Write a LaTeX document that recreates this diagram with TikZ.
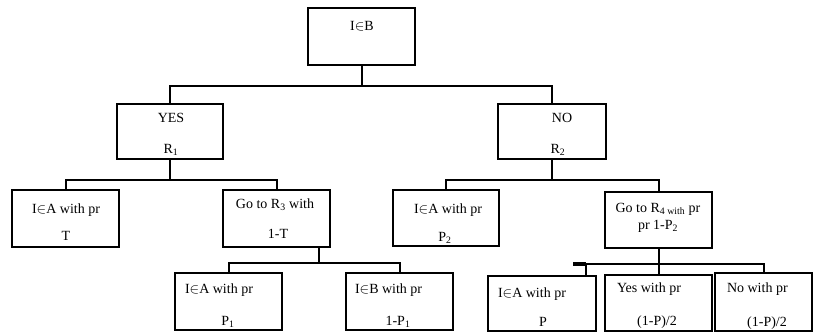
\documentclass[tikz,border=0pt]{standalone}
\usepackage{fontspec}
\setmainfont{Liberation Serif}
\begin{document}
\begin{tikzpicture}[x=1pt,y=-1pt,
  box/.style 2 args={draw=black, line width=2.4pt, inner sep=0pt, outer sep=0pt, minimum width=#1, minimum height=#2},
  conn/.style={draw=black, line width=2pt},
  txt/.style={inner sep=0pt, outer sep=0pt, font=\fontsize{14}{16}\selectfont, text=black},
  ctr/.style={txt, anchor=base},
  lft/.style={txt, anchor=base west}]
\useasboundingbox (0,0) rectangle (814,333);
% boxes
\node[box={107pt}{57pt}] (top) at (361.5,36.5) {};
\node[box={106pt}{55pt}] (yes) at (170,131.5) {};
\node[box={108pt}{55pt}] (no) at (552,131.5) {};
\node[box={107pt}{57pt}] (iaT) at (65.5,218.5) {};
\node[box={107pt}{57pt}] (r3) at (276.5,218.5) {};
\node[box={106pt}{56pt}] (iaP2) at (446,218) {};
\node[box={107pt}{56pt}] (r4) at (658.5,220) {};
\node[box={107pt}{57pt}] (iaP1) at (228.5,301.5) {};
\node[box={107pt}{57pt}] (ibP1) at (399.5,301.5) {};
\node[box={108pt}{55pt}] (iaP) at (542,303.5) {};
\node[box={107pt}{56pt}] (yesP) at (658.5,303) {};
\node[box={97pt}{58pt}] (noP) at (763.5,302) {};
% texts
\node[ctr] (ttop) at (362,30) {I$\in$B};
\node[ctr] (tyes1) at (171,122) {YES};
\node[ctr] (tyes2) at (171,153) {R\textsubscript{1}};
\node[ctr] (tno1) at (562,122) {NO};
\node[ctr] (tno2) at (558,153) {R\textsubscript{2}};
\node[ctr] (tiaT1) at (66,213) {I$\in$A with pr};
\node[ctr] (tiaT2) at (66,240) {T};
\node[ctr] (tr31) at (275,208) {Go to R\textsubscript{3} with};
\node[ctr] (tr32) at (278,238) {1-T};
\node[ctr] (tiaP21) at (448,213) {I$\in$A with pr};
\node[ctr] (tiaP22) at (445,241) {P\textsubscript{2}};
\node[ctr] (tr41) at (658,212) {Go to R\textsubscript{4 with} pr};
\node[ctr] (tr42) at (658,229) {pr 1-P\textsubscript{2}};
\node[lft] (tiaP11) at (185,293) {I$\in$A with pr};
\node[ctr] (tiaP12) at (228,325) {P\textsubscript{1}};
\node[lft] (tibP11) at (355,293) {I$\in$B with pr};
\node[ctr] (tibP12) at (398,325) {1-P\textsubscript{1}};
\node[lft] (tiaP1) at (498,297) {I$\in$A with pr};
\node[ctr] (tiaP2) at (543,326) {P};
\node[lft] (tyesP1) at (617,292) {Yes with pr};
\node[ctr] (tyesP2) at (657,325) {(1-P)/2};
\node[lft] (tnoP1) at (727,292) {No with pr};
\node[ctr] (tnoP2) at (767,326) {(1-P)/2};
% connector helpers
\coordinate (b1) at (0,86);
\coordinate (b2) at (0,180);
\coordinate (b3) at (0,263);
\coordinate (b4) at (0,264);
\coordinate (s3) at (319,0);
\coordinate (e4) at (573,264);
\coordinate (t4) at (586,0);
% connectors
\draw[conn] (top.south) -- (top.south |- b1);
\draw[conn] (yes.north) -- (yes.north |- b1) -- (no.north |- b1) -- (no.north);
\draw[conn] (yes.south) -- (yes.south |- b2);
\draw[conn] (iaT.north) -- (iaT.north |- b2) -- (r3.north |- b2) -- (r3.north);
\draw[conn] (no.south) -- (no.south |- b2);
\draw[conn] (iaP2.north) -- (iaP2.north |- b2) -- (r4.north |- b2) -- (r4.north);
\draw[conn] (s3 |- r3.south) -- (s3 |- b3);
\draw[conn] (iaP1.north) -- (iaP1.north |- b3) -- (ibP1.north |- b3) -- (ibP1.north);
\draw[conn] (r4.south) -- (yesP.north);
\draw[conn] (e4) -- (noP.north |- b4) -- (noP.north);
\draw[conn] (t4 |- b4) -- (t4 |- iaP.north);
\draw[line width=4pt] (e4) -- ++(13,0);
\end{tikzpicture}
\end{document}
